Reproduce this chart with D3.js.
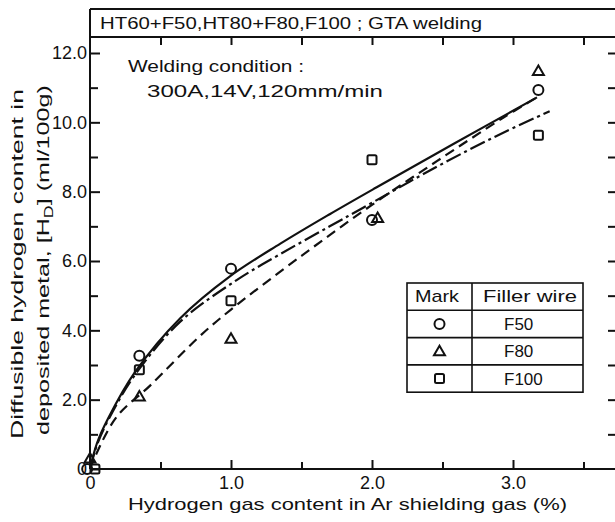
<!DOCTYPE html>
<html>
<head>
<meta charset="utf-8">
<script src="https://cdn.jsdelivr.net/npm/d3@7"></script>
<style>
  body { margin: 0; background: #fff; }
  text { font-family: "Liberation Sans", Arial, sans-serif; fill: #111; }
</style>
</head>
<body>
<div id="chart"></div>
<script>
// measured points, one array per filler wire
var seriesNames = ["F50", "F80", "F100"];
var seriesMarks = ["circle", "triangle", "square"];
var f50X = [-0.02, 0.35, 1.0, 2.0, 3.18];
var f50Y = [0.0, 3.27, 5.78, 7.18, 10.93];
var f80X = [0.0, 0.35, 1.0, 2.04, 3.18];
var f80Y = [0.3, 2.09, 3.76, 7.24, 11.48];
var f100X = [0.035, 0.35, 1.0, 2.0, 3.18];
var f100Y = [0.0, 2.86, 4.85, 8.92, 9.63];

// fitted curves
var solidX = [0, 0.05, 0.13, 0.32, 0.64, 0.99, 1.35, 1.70, 2.03, 2.58, 3.17];
var solidY = [0, 0.75, 1.47, 2.8, 4.35, 5.55, 6.5, 7.35, 8.12, 9.38, 10.72];
var dashedX = [0, 0.035, 0.19, 0.43, 0.77, 1.0, 1.5, 2.0, 2.46, 2.93, 3.17];
var dashedY = [0, 0.35, 1.51, 2.42, 3.8, 4.6, 6.15, 7.62, 8.88, 10.13, 10.72];
var dashDotX = [0, 0.05, 0.13, 0.32, 0.64, 1.04, 1.35, 1.70, 2.0, 2.46, 2.88, 3.26];
var dashDotY = [0, 0.7, 1.42, 2.72, 4.25, 5.45, 6.2, 7.0, 7.68, 8.72, 9.6, 10.32];

var xMajor = [0, 1, 2, 3];
var xMinor = [0.5, 1.5, 2.5, 3.5];
var yMajor = [0, 2, 4, 6, 8, 10, 12];
var yMinor = [1, 3, 5, 7, 9, 11];

var W = 615, H = 522;
var svg = d3.select("#chart").append("svg")
	.attr("width", W).attr("height", H);

var x = d3.scaleLinear().domain([0, 3.5]).range([90, 583.5]);
var y = d3.scaleLinear().domain([0, 12]).range([469, 53]);
var top0 = 9, top1 = 37, bottom = 469, left = 90;

// frame + title box
var frame = svg.append("g").attr("stroke", "#111").attr("stroke-width", 2).attr("fill", "none");
frame.append("line").attr("x1", left).attr("x2", W).attr("y1", top0).attr("y2", top0);
frame.append("line").attr("x1", left).attr("x2", W).attr("y1", top1).attr("y2", top1);
frame.append("line").attr("x1", left).attr("x2", W).attr("y1", bottom).attr("y2", bottom);
frame.append("line").attr("x1", left).attr("x2", left).attr("y1", top0).attr("y2", bottom);

function styleAxis(g) {
	g.select(".domain").remove();
	g.selectAll(".tick line").attr("stroke", "#111").attr("stroke-width", 2);
	g.selectAll(".tick text").attr("font-size", 18).attr("fill", "#111")
		.attr("font-family", "Liberation Sans, Arial, sans-serif");
}
function fmt(d) { return d === 0 ? "0" : d3.format(".1f")(d); }

svg.append("g").attr("transform", "translate(" + left + ",0)")
	.call(d3.axisLeft(y).tickValues(yMajor).tickSize(-10).tickPadding(3).tickFormat(fmt))
	.call(styleAxis);
svg.append("g").attr("transform", "translate(" + left + ",0)")
	.call(d3.axisLeft(y).tickValues(yMinor).tickSize(-8).tickFormat(""))
	.call(styleAxis);
svg.append("g").attr("transform", "translate(" + W + ",0)")
	.call(d3.axisRight(y).tickValues(yMajor.concat(yMinor).filter(function(d){ return d > 0; }))
		.tickSize(-7).tickFormat(""))
	.call(styleAxis);
svg.append("g").attr("transform", "translate(0," + bottom + ")")
	.call(d3.axisBottom(x).tickValues(xMajor).tickSize(-9).tickPadding(7).tickFormat(fmt))
	.call(styleAxis);
svg.append("g").attr("transform", "translate(0," + bottom + ")")
	.call(d3.axisBottom(x).tickValues(xMinor).tickSize(-7).tickFormat(""))
	.call(styleAxis);
svg.append("g").attr("transform", "translate(0," + top1 + ")")
	.call(d3.axisTop(x).tickValues(xMajor.concat(xMinor).filter(function(d){ return d > 0; }))
		.tickSize(-8).tickFormat(""))
	.call(styleAxis);

// texts
svg.append("text").attr("x", 100).attr("y", 29).attr("font-size", 17)
	.attr("textLength", 382).attr("lengthAdjust", "spacingAndGlyphs")
	.text("HT60+F50,HT80+F80,F100 ; GTA  welding");
svg.append("text").attr("x", 128).attr("y", 72).attr("font-size", 17)
	.attr("textLength", 176).attr("lengthAdjust", "spacingAndGlyphs")
	.text("Welding condition :");
svg.append("text").attr("x", 147).attr("y", 97).attr("font-size", 17)
	.attr("textLength", 236).attr("lengthAdjust", "spacingAndGlyphs")
	.text("300A,14V,120mm/min");
svg.append("text").attr("x", 128).attr("y", 510).attr("font-size", 17)
	.attr("textLength", 439).attr("lengthAdjust", "spacingAndGlyphs")
	.text("Hydrogen gas content in Ar shielding gas (%)");

svg.append("text").attr("transform", "translate(23,264) rotate(-90)")
	.attr("text-anchor", "middle").attr("font-size", 17)
	.attr("textLength", 350).attr("lengthAdjust", "spacingAndGlyphs")
	.text("Diffusible hydrogen content in");
var yl2 = svg.append("text").attr("transform", "translate(49,260) rotate(-90)")
	.attr("text-anchor", "middle").attr("font-size", 17)
	.attr("textLength", 350).attr("lengthAdjust", "spacingAndGlyphs");
yl2.append("tspan").text("deposited metal, [H");
yl2.append("tspan").attr("font-size", 12).attr("dy", 4).text("D");
yl2.append("tspan").attr("dy", -4).text("] (ml/100g)");

// curves
var line = d3.line().x(function(d){ return x(d[0]); }).y(function(d){ return y(d[1]); })
	.curve(d3.curveCatmullRom.alpha(0.5));
var curves = [
	{xs: solidX, ys: solidY, dash: null},
	{xs: dashedX, ys: dashedY, dash: "10,6"},
	{xs: dashDotX, ys: dashDotY, dash: "16,4,3,4"}
];
curves.forEach(function(c){
	svg.append("path")
		.datum(d3.zip(c.xs, c.ys))
		.attr("d", line)
		.attr("fill", "none").attr("stroke", "#111").attr("stroke-width", 2.2)
		.attr("stroke-dasharray", c.dash);
});

// markers
function drawMark(g, kind, cx, cy) {
	var m;
	if (kind === "circle") {
		m = g.append("circle").attr("cx", cx).attr("cy", cy).attr("r", 5);
	} else if (kind === "triangle") {
		m = g.append("path").attr("d", "M" + cx + "," + (cy - 5.5) + "L" + (cx + 5.5) + "," + (cy + 4) +
			"L" + (cx - 5.5) + "," + (cy + 4) + "Z");
	} else {
		m = g.append("rect").attr("x", cx - 4.5).attr("y", cy - 4.5)
			.attr("width", 9).attr("height", 9).attr("rx", 1.5);
	}
	m.attr("fill", "none").attr("stroke", "#111").attr("stroke-width", 2);
}
var series = [[f50X, f50Y], [f80X, f80Y], [f100X, f100Y]];
var marks = svg.append("g");
series.forEach(function(s, i){
	d3.zip(s[0], s[1]).forEach(function(p){
		drawMark(marks, seriesMarks[i], x(p[0]), y(p[1]));
	});
});

// legend table
var lg = svg.append("g");
var lx0 = 407, lx1 = 583, lxd = 472, ly0 = 283, rowH = 27.3;
lg.append("rect").attr("x", lx0).attr("y", ly0).attr("width", lx1 - lx0).attr("height", rowH * 4)
	.attr("fill", "#fff").attr("stroke", "#111").attr("stroke-width", 1.6);
lg.append("line").attr("x1", lxd).attr("x2", lxd).attr("y1", ly0).attr("y2", ly0 + rowH * 4)
	.attr("stroke", "#111").attr("stroke-width", 1.6);
for (var r = 1; r < 4; r++) {
	lg.append("line").attr("x1", lx0).attr("x2", lx1).attr("y1", ly0 + rowH * r).attr("y2", ly0 + rowH * r)
		.attr("stroke", "#111").attr("stroke-width", 1.6);
}
lg.append("text").attr("x", 415).attr("y", ly0 + 19).attr("font-size", 17)
	.attr("textLength", 44).attr("lengthAdjust", "spacingAndGlyphs").text("Mark");
lg.append("text").attr("x", 483).attr("y", ly0 + 19).attr("font-size", 17)
	.attr("textLength", 94).attr("lengthAdjust", "spacingAndGlyphs").text("Filler wire");
seriesNames.forEach(function(name, i){
	var cy = ly0 + rowH * (i + 1) + rowH / 2;
	drawMark(lg, seriesMarks[i], (lx0 + lxd) / 2, cy);
	lg.append("text").attr("x", 504).attr("y", cy + 6).attr("font-size", 17).text(name);
});
</script>
</body>
</html>
